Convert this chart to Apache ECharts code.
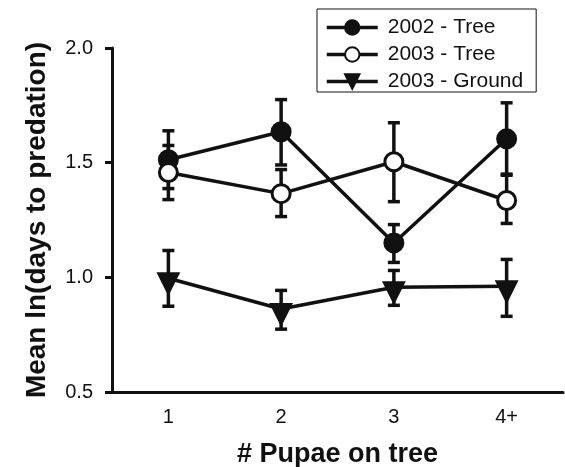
<!DOCTYPE html>
<html>
<head>
<meta charset="utf-8">
<script src="https://cdn.jsdelivr.net/npm/echarts@6/dist/echarts.min.js"></script>
<style>html,body{margin:0;padding:0;background:#fff}#c{width:565px;height:467px}</style>
</head>
<body>
<div id="c"></div>
<script>
var categories = ['1', '2', '3', '4+'];
var yTicks = [0.5, 1.0, 1.5, 2.0];

var tree2002Mean = [1.513, 1.635, 1.150, 1.604];
var tree2002Low  = [1.387, 1.490, 1.065, 1.445];
var tree2002High = [1.639, 1.775, 1.230, 1.761];

var tree2003Mean = [1.457, 1.365, 1.504, 1.335];
var tree2003Low  = [1.339, 1.265, 1.330, 1.235];
var tree2003High = [1.575, 1.470, 1.674, 1.450];

var ground2003Mean = [0.996, 0.862, 0.957, 0.961];
var ground2003Low  = [0.874, 0.774, 0.878, 0.830];
var ground2003High = [1.117, 0.943, 1.030, 1.078];

var INK = '#111';
var FONT = 'Liberation Sans, Arial, sans-serif';

function errData(low, high) {
  return categories.map(function (c, i) { return [i, low[i], high[i]]; });
}
function errSeries(low, high) {
  return {
    type: 'custom',
    silent: true,
    z: 1,
    data: errData(low, high),
    renderItem: function (params, api) {
      var i = api.value(0);
      var lo = api.coord([i, api.value(1)]);
      var hi = api.coord([i, api.value(2)]);
      var hw = 6;
      var st = { stroke: INK, lineWidth: 3.5 };
      return {
        type: 'group',
        children: [
          { type: 'line', shape: { x1: lo[0], y1: lo[1], x2: hi[0], y2: hi[1] }, style: st },
          { type: 'line', shape: { x1: lo[0] - hw, y1: lo[1], x2: lo[0] + hw, y2: lo[1] }, style: st },
          { type: 'line', shape: { x1: hi[0] - hw, y1: hi[1], x2: hi[0] + hw, y2: hi[1] }, style: st }
        ]
      };
    }
  };
}
function lineSeries(name, data, symbol, fill, rotate, offset, size) {
  return {
    name: name,
    type: 'line',
    data: data,
    symbol: symbol,
    symbolSize: size || 18,
    symbolRotate: rotate || 0,
    symbolOffset: offset || [0, 0],
    showAllSymbol: true,
    z: 3,
    lineStyle: { color: INK, width: 3.5 },
    itemStyle: { color: fill, borderColor: INK, borderWidth: 3 },
    emphasis: { disabled: true }
  };
}

var chart = echarts.init(document.getElementById('c'), null, { renderer: 'canvas' });
chart.setOption({
  animation: false,
  backgroundColor: '#fff',
  textStyle: { fontFamily: FONT, color: INK },
  grid: { left: 112, right: 2, top: 48, bottom: 75, containLabel: false, outerBoundsMode: 'none' },
  legend: {
    orient: 'vertical',
    left: 317,
    top: 9,
    padding: [8, 13, 0, 8],
    itemGap: 6,
    itemWidth: 51,
    itemHeight: 18,
    borderColor: INK,
    borderWidth: 1,
    lineStyle: { width: 3.5, color: INK },
    textStyle: { fontSize: 21, fontFamily: FONT, color: INK, padding: [0, 0, 0, 5] },
    data: ['2002 - Tree', '2003 - Tree', '2003 - Ground']
  },
  xAxis: {
    type: 'category',
    data: categories,
    boundaryGap: true,
    name: '# Pupae on tree',
    nameLocation: 'middle',
    nameGap: 49,
    nameTextStyle: { fontSize: 27, fontWeight: 'bold', fontFamily: FONT, color: INK },
    axisLine: { lineStyle: { color: INK, width: 3 } },
    axisTick: { alignWithLabel: true, length: 6, lineStyle: { color: INK, width: 3 } },
    axisLabel: { fontSize: 20, color: INK, margin: 15, fontFamily: FONT },
    splitLine: { show: false }
  },
  yAxis: {
    type: 'value',
    min: 0.5,
    max: 2.0,
    interval: 0.5,
    name: 'Mean ln(days to predation)',
    nameLocation: 'middle',
    nameGap: 61,
    nameTextStyle: { fontSize: 28, fontWeight: 'bold', fontFamily: FONT, color: INK },
    axisLine: { show: true, lineStyle: { color: INK, width: 3 } },
    axisTick: { show: true, length: 7, lineStyle: { color: INK, width: 3 } },
    axisLabel: { fontSize: 20, color: INK, margin: 19, fontFamily: FONT,
      formatter: function (v) { return v.toFixed(1); } },
    splitLine: { show: false }
  },
  series: [
    errSeries(tree2002Low, tree2002High),
    errSeries(tree2003Low, tree2003High),
    errSeries(ground2003Low, ground2003High),
    lineSeries('2002 - Tree', tree2002Mean, 'circle', INK),
    lineSeries('2003 - Tree', tree2003Mean, 'circle', '#fff'),
    lineSeries('2003 - Ground', ground2003Mean, 'triangle', INK, 180, [0, 5], 19)
  ]
});
</script>
</body>
</html>
